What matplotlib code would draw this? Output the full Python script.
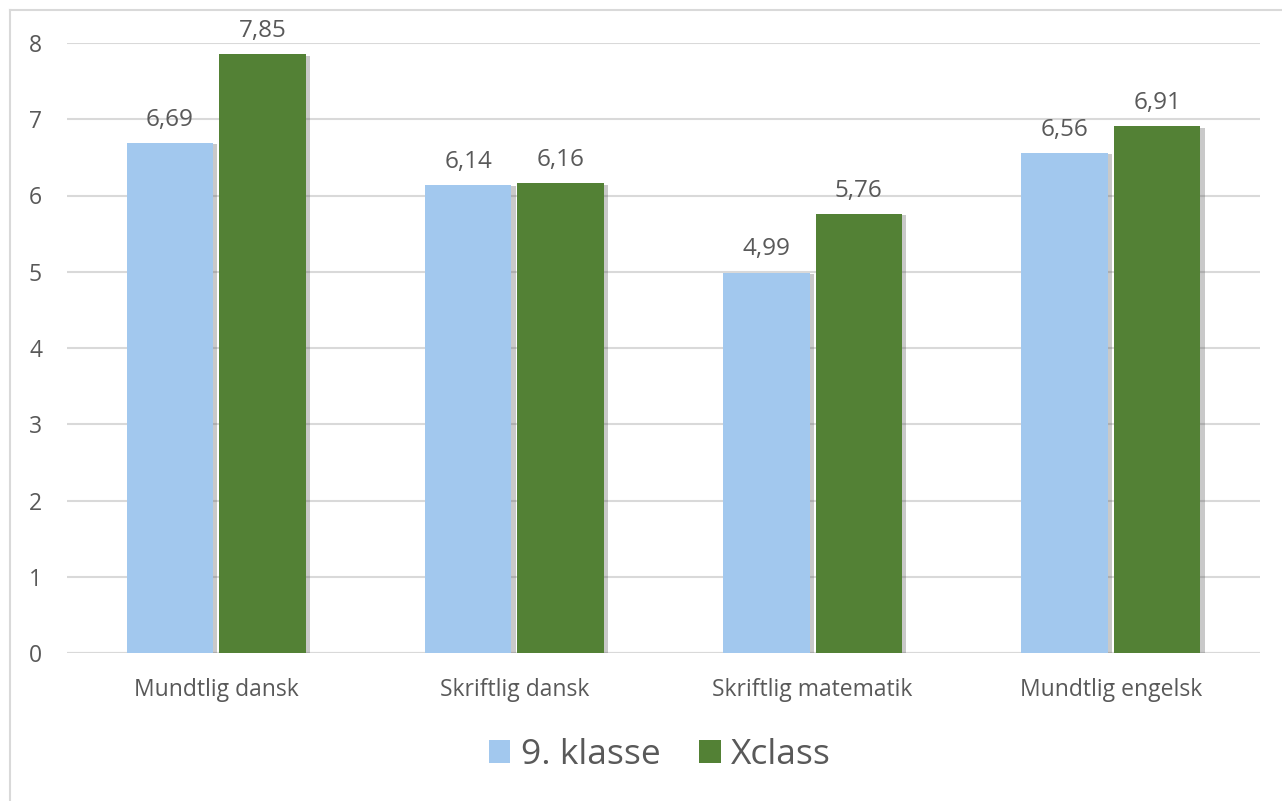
import matplotlib
matplotlib.use("Agg")
import matplotlib.pyplot as plt
import matplotlib.patheffects as pe
from matplotlib.lines import Line2D
import numpy as np

categories = ["Mundtlig dansk", "Skriftlig dansk", "Skriftlig matematik", "Mundtlig engelsk"]
series_names = ["9. klasse", "Xclass"]
klasse9 = [6.69, 6.14, 4.99, 6.56]
xclass = [7.85, 6.16, 5.76, 6.91]
yticks = [0, 1, 2, 3, 4, 5, 6, 7, 8]

plt.rcParams['font.family'] = ['Open Sans', 'DejaVu Sans']
W, H = 1282, 801
fig = plt.figure(figsize=(W/100, H/100), dpi=100)
ax = fig.add_axes([67/W, 1-653/H, (1260-67)/W, (653-43)/H])

x = np.arange(len(categories))
bw = 0.29
off = 0.155
shadow = [pe.SimplePatchShadow(offset=(3, -1), shadow_rgbFace=(0.3, 0.3, 0.3), alpha=0.3), pe.Normal()]
c1, c2 = "#A2C8EE", "#538135"
b1 = ax.bar(x - off, klasse9, bw, color=c1, label=series_names[0], zorder=3, path_effects=shadow)
b2 = ax.bar(x + off, xclass, bw, color=c2, label=series_names[1], zorder=3, path_effects=shadow)

txtc = "#595959"
for bars, vals in ((b1, klasse9), (b2, xclass)):
    for r, v in zip(bars, vals):
        ax.annotate(f"{v:.2f}".replace(".", ","), (r.get_x() + r.get_width()/2, v),
                    xytext=(0, 8), textcoords="offset points", ha="center", va="bottom",
                    fontsize=17.5, color=txtc)

ax.set_xlim(-0.5, len(categories) - 0.5)
ax.set_ylim(0, 8)
ax.set_yticks(yticks)
ax.set_yticklabels([str(t) for t in yticks])
ax.set_xticks(x)
ax.set_xticklabels(categories)
ax.tick_params(axis='both', length=0, labelsize=16.5, colors=txtc)
ax.tick_params(axis='y', pad=18)
ax.tick_params(axis='x', pad=18)
ax.grid(axis='y', color="#D9D9D9", linewidth=1.5, zorder=0)
ax.set_axisbelow(True)
for s in ax.spines.values():
    s.set_visible(False)
ax.axhline(0, color="#D9D9D9", linewidth=1.5, zorder=1)

leg = fig.legend(handles=[b1, b2], labels=series_names, loc="center", bbox_to_anchor=(660/W, 1-755/H),
                 ncol=2, frameon=False, fontsize=25.5, handlelength=0.6, handleheight=0.6,
                 handletextpad=0.3, columnspacing=1.1, labelcolor=txtc)
for h in leg.legend_handles:
    h.set_path_effects([])

fig.add_artist(Line2D([10/W, 10/W], [0, 1-10/H], color="#D9D9D9", linewidth=1.5, transform=fig.transFigure))
fig.add_artist(Line2D([10/W, 1], [1-10/H, 1-10/H], color="#D9D9D9", linewidth=1.5, transform=fig.transFigure))

fig.savefig("out.png", dpi=100)
